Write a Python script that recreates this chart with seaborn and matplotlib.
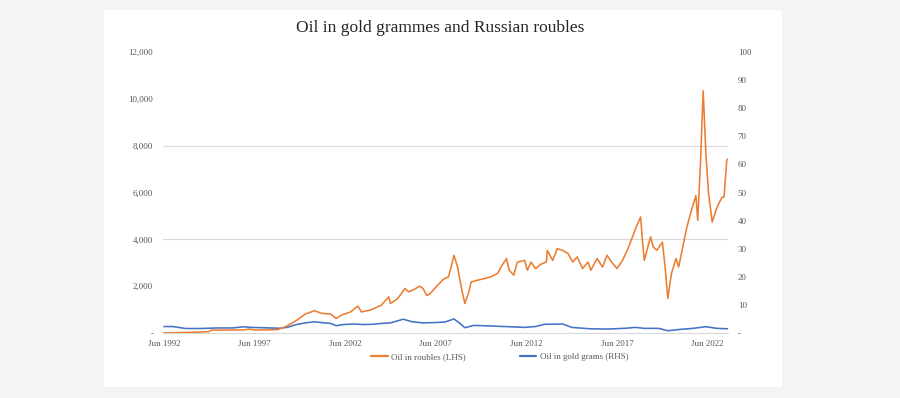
import matplotlib
matplotlib.use("Agg")
import matplotlib.pyplot as plt
import matplotlib.patches as mpatches
from matplotlib.lines import Line2D
import seaborn as sns
import pandas as pd

# ---------------- data ----------------
rouble_years = [1992.5, 1993.5, 1994.5, 1995.0, 1995.1, 1996.0, 1996.9, 1997.2, 1997.5,
                1998.3, 1998.8, 1999.2, 1999.7, 2000.3, 2000.8, 2001.2, 2001.7, 2002.0,
                2002.3, 2002.8, 2003.2, 2003.4, 2003.9, 2004.5, 2004.9, 2005.0, 2005.4,
                2005.8, 2006.0, 2006.3, 2006.6, 2006.8, 2007.0, 2007.2, 2007.6, 2007.9,
                2008.2, 2008.35, 2008.5, 2008.7, 2008.9, 2009.1, 2009.3, 2009.45, 2009.8,
                2010.2, 2010.55, 2010.9, 2011.1, 2011.4, 2011.55, 2011.8, 2012.0, 2012.4,
                2012.55, 2012.75, 2013.0, 2013.3, 2013.6, 2013.65, 2013.95, 2014.2, 2014.5,
                2014.8, 2015.05, 2015.3, 2015.6, 2015.9, 2016.05, 2016.4, 2016.7, 2016.95,
                2017.2, 2017.5, 2017.8, 2018.1, 2018.35, 2018.55, 2018.8, 2018.9, 2019.0,
                2019.2, 2019.35, 2019.5, 2019.7, 2020.0, 2020.15, 2020.3, 2020.5, 2020.75,
                2020.9, 2021.2, 2021.35, 2021.6, 2021.85, 2021.95, 2022.1, 2022.25, 2022.4,
                2022.55, 2022.75, 2022.95, 2023.1, 2023.3, 2023.4, 2023.55, 2023.6]
rouble_values = [5, 20, 40, 60, 120, 125, 130, 170, 130,
                 130, 150, 268, 480, 808, 950, 840, 810, 620,
                 765, 900, 1150, 900, 980, 1190, 1545, 1260, 1475,
                 1900, 1760, 1860, 2000, 1900, 1600, 1690, 2040, 2285,
                 2400, 2820, 3320, 2820, 1970, 1260, 1690, 2180, 2255,
                 2330, 2400, 2540, 2820, 3180, 2680, 2470, 3030, 3100,
                 2680, 3030, 2750, 2940, 3030, 3530, 3100, 3600, 3530,
                 3390, 3030, 3250, 2750, 3030, 2680, 3180, 2820, 3320,
                 3030, 2750, 3100, 3600, 4100, 4520, 4950, 3960, 3100,
                 3670, 4100, 3670, 3530, 3880, 2820, 1475, 2540, 3180,
                 2820, 3960, 4520, 5230, 5870, 4810, 7220, 10340, 7650,
                 5940, 4740, 5230, 5520, 5800, 5800, 7360, 7430]

gold_years = [1992.5, 1993.0, 1993.3, 1993.7, 1994.5, 1995.5, 1996.3, 1996.9, 1997.3,
              1997.8, 1998.3, 1998.9, 1999.3, 1999.8, 2000.3, 2000.8, 2001.2, 2001.7,
              2002.0, 2002.4, 2003.0, 2003.5, 2004.0, 2004.5, 2005.0, 2005.7, 2006.2,
              2006.8, 2007.4, 2008.0, 2008.5, 2008.8, 2009.1, 2009.6, 2010.5, 2011.5,
              2012.4, 2013.0, 2013.5, 2014.5, 2015.0, 2016.0, 2017.0, 2018.0, 2018.5,
              2019.0, 2019.8, 2020.3, 2021.0, 2021.7, 2022.4, 2023.0, 2023.6]
gold_values = [2.3, 2.3, 2.0, 1.6, 1.6, 1.8, 1.8, 2.2, 2.0,
               1.9, 1.8, 1.7, 2.0, 3.0, 3.6, 4.0, 3.7, 3.4,
               2.6, 3.0, 3.2, 3.0, 3.1, 3.4, 3.6, 4.9, 4.0,
               3.6, 3.7, 3.9, 5.0, 3.6, 1.9, 2.7, 2.5, 2.25,
               2.0, 2.3, 3.1, 3.2, 2.0, 1.5, 1.4, 1.7, 2.0,
               1.65, 1.65, 0.8, 1.3, 1.65, 2.25, 1.65, 1.5]

x_tick_years = [1992.5, 1997.5, 2002.5, 2007.5, 2012.5, 2017.5, 2022.5]
x_tick_labels = ["Jun 1992", "Jun 1997", "Jun 2002", "Jun 2007", "Jun 2012", "Jun 2017", "Jun 2022"]
left_ticks = [0, 2000, 4000, 6000, 8000, 10000, 12000]
right_ticks = [0, 10, 20, 30, 40, 50, 60, 70, 80, 90, 100]

title = "Oil in gold grammes and Russian roubles"
label_rouble = "Oil in roubles (LHS)"
label_gold = "Oil in gold grams (RHS)"

# ---------------- style ----------------
sns.set_style("white")
plt.rcParams["font.family"] = ["Liberation Serif", "DejaVu Serif"]

ORANGE = "#ED7D31"
BLUE = "#4472C4"
GRID = "#D9D9D9"
TXT = "#595959"

df_r = pd.DataFrame({"year": rouble_years, "value": rouble_values})
df_g = pd.DataFrame({"year": gold_years, "value": gold_values})

fig = plt.figure(figsize=(9.0, 3.98), dpi=100)
fig.patch.set_facecolor("#F4F4F4")
panel = mpatches.Rectangle((104 / 900, 1 - 387 / 398), (782 - 104) / 900, (387 - 10) / 398,
                           transform=fig.transFigure, facecolor="white",
                           edgecolor="none", zorder=-10)
fig.patches.append(panel)

ax = fig.add_axes([163 / 900, 1 - 333 / 398, (728 - 163) / 900, (333 - 52) / 398])
ax2 = ax.twinx()

sns.lineplot(data=df_g, x="year", y="value", ax=ax2, color=BLUE, linewidth=1.15)
sns.lineplot(data=df_r, x="year", y="value", ax=ax, color=ORANGE, linewidth=1.15)
ax.set_zorder(ax2.get_zorder() + 1)
ax.patch.set_visible(False)
ax2.patch.set_visible(False)

ax.set_xlim(1992.45, 2023.62)
ax.set_ylim(0, 12000)
ax2.set_ylim(0, 100)

for a in (ax, ax2):
    for s in a.spines.values():
        s.set_visible(False)
    a.set_xlabel("")
    a.set_ylabel("")

ax2.spines["bottom"].set_visible(True)
ax2.spines["bottom"].set_color(GRID)
ax2.spines["bottom"].set_linewidth(0.8)

for g in (4000, 8000):
    ax2.axhline(g / 120, color=GRID, linewidth=0.8, zorder=0)

ax.set_xticks(x_tick_years)
ax.set_xticklabels(x_tick_labels)
ax.set_yticks(left_ticks)
ax.set_yticklabels(["-" if v == 0 else f"{v:,}" for v in left_ticks])
ax2.set_yticks(right_ticks)
ax2.set_yticklabels(["-" if v == 0 else f"{v}" for v in right_ticks])

ax.tick_params(axis="x", length=3, width=0.6, color=GRID, labelsize=6.5, labelcolor=TXT, pad=2)
ax.tick_params(axis="y", length=0, labelsize=6.5, labelcolor=TXT, pad=7)
ax2.tick_params(axis="y", length=0, labelsize=6.5, labelcolor=TXT, pad=7)

fig.text(440 / 900, 1 - 28 / 398, title, ha="center", va="center", fontsize=12.5, color="#262626")

handles = [Line2D([0], [0], color=ORANGE, linewidth=1.6),
           Line2D([0], [0], color=BLUE, linewidth=1.6)]
fig.legend(handles, [label_rouble, label_gold], loc="center", bbox_to_anchor=(500 / 900, 1 - 357 / 398),
           ncol=2, frameon=False, fontsize=6.5, labelcolor=TXT, handlelength=1.8,
           columnspacing=6.0, handletextpad=0.4)

fig.savefig("out.png", dpi=100, facecolor=fig.get_facecolor())
